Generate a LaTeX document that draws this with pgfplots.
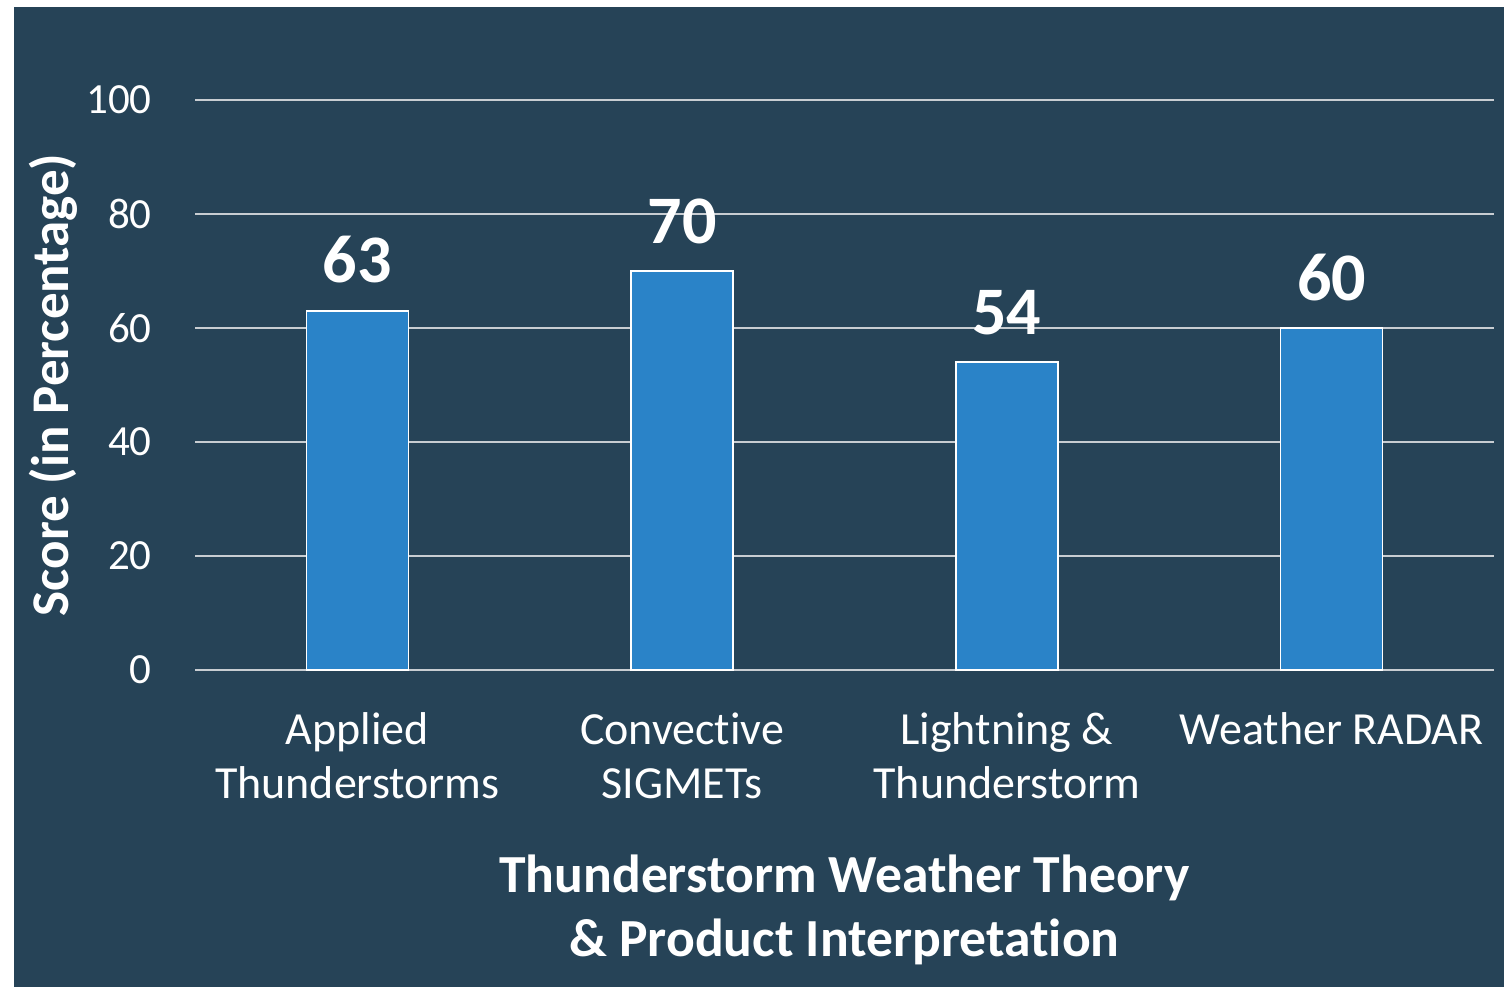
\documentclass[border=0pt]{standalone}
\usepackage{fontspec}
\setmainfont{Carlito}[Ligatures=NoCommon]
\usepackage{pgfplots}
\pgfplotsset{compat=1.18}
\definecolor{bg}{RGB}{38,67,87}
\definecolor{barblue}{RGB}{42,131,200}
\definecolor{gridgray}{RGB}{200,205,210}
\begin{document}
\begin{tikzpicture}
% page and panel background
\fill[white] (0,0) rectangle (752pt,493.5pt);
\fill[bg] (7pt,0) rectangle (752pt,490pt);
\begin{axis}[
  at={(97.5pt,158.5pt)}, anchor=south west,
  scale only axis,
  width=649.5pt, height=285pt,
  xmin=-0.5, xmax=3.5,
  ymin=0, ymax=100,
  ytick={0,20,40,60,80,100},
  xtick=data,
  xticklabels={{Applied\\Thunderstorms},{Convective\\SIGMETs},{Lightning \&\\Thunderstorm},{Weather RADAR}},
  axis line style={draw=none},
  major tick length=0pt,
  ymajorgrids,
  major grid style={gridgray, line width=1pt},
  /pgf/number format/assume math mode=true,
  yticklabel style={font=\fontsize{21.5}{26}\selectfont, text=white, inner sep=0pt, xshift=-21.5pt, anchor=east},
  xticklabel style={font=\fontsize{23}{27}\selectfont, text=white, align=center, inner sep=0pt, anchor=north, yshift=-21pt},
  xlabel={Thunderstorm Weather Theory\\\& Product Interpretation},
  xlabel style={at={(rel axis cs:0.5,0)}, anchor=north, yshift=-92pt, font=\bfseries\fontsize{26.8}{32}\selectfont, text=white, align=center, inner sep=0pt},
  ylabel={Score (in Percentage)},
  % the label is rotated, so yshift moves it to the left
  ylabel style={at={(rel axis cs:0,0.5)}, anchor=base, yshift=63pt, font=\bfseries\fontsize{26.5}{32}\selectfont, text=white, inner sep=0pt},
  clip=false,
]
\addplot[ybar, bar width=51pt, fill=barblue, draw=white, line width=0.75pt,
  nodes near coords,
  every node near coord/.append style={font=\bfseries\fontsize{34}{40}\selectfont, text=white, anchor=base, yshift=14pt, inner sep=0pt},
] coordinates {(0,63) (1,70) (2,54) (3,60)};
\end{axis}
\end{tikzpicture}
\end{document}
